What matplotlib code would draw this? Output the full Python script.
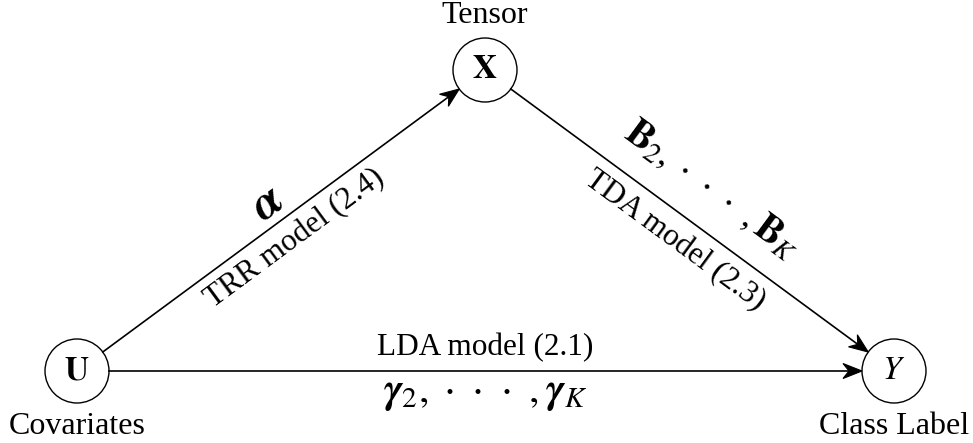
import numpy as np
import matplotlib
matplotlib.use("Agg")
import matplotlib.pyplot as plt
from matplotlib.patches import Circle, Polygon

plt.rcParams["font.family"] = ["Liberation Serif", "DejaVu Serif"]
plt.rcParams["mathtext.fontset"] = "stix"

# ── diagram content ──────────────────────────────────────────────────────────
node_keys     = ["U", "X", "Y"]
node_symbols  = [r"$\mathbf{U}$", r"$\mathbf{X}$", r"$Y$"]
node_captions = ["Covariates", "Tensor", "Class Label"]

edge_src    = ["U", "X", "U"]
edge_dst    = ["X", "Y", "Y"]
DOTS = r"\;{\cdot}\;\;{\cdot}\;\;{\cdot}\;\;"
edge_top    = [r"$\boldsymbol{\alpha}$",
               r"$\mathbf{B}_2," + DOTS + r",\mathbf{B}_K$",
               "LDA model (2.1)"]
edge_bottom = ["TRR model (2.4)",
               "TDA model (2.3)",
               r"$\boldsymbol{\gamma}_2," + DOTS + r",\boldsymbol{\gamma}_K$"]

# ── layout (pixel space, y down) ─────────────────────────────────────────────
W, H = 973, 443
POS = {"U": (77, 371), "X": (485, 70), "Y": (894, 371)}
R = 32
CAPTION_DY = {"U": 55, "X": -55, "Y": 55}
TOP_FS     = [34, 28, 22.5]
BOTTOM_FS  = [22.5, 22.5, 30]
TOP_OFF    = [21, 38, 23]
BOTTOM_OFF = [23, 25, 23]
HEAD_L, HEAD_W, NOTCH = 19, 7.5, 6

fig = plt.figure(figsize=(W / 100, H / 100), dpi=100)
ax = fig.add_axes([0, 0, 1, 1])
ax.set_xlim(0, W)
ax.set_ylim(H, 0)
ax.set_aspect("equal")
ax.axis("off")

for key, sym, cap in zip(node_keys, node_symbols, node_captions):
    x, y = POS[key]
    ax.add_patch(Circle((x, y), R, fill=False, lw=1.0, ec="black"))
    ax.text(x, y, sym, ha="center", va="center", fontsize=24)
    ax.text(x, y + CAPTION_DY[key], cap, ha="center", va="center", fontsize=23)

for i, (s, d) in enumerate(zip(edge_src, edge_dst)):
    (x0, y0), (x1, y1) = POS[s], POS[d]
    v = np.array([x1 - x0, y1 - y0], float)
    u = v / np.hypot(*v)
    p0 = np.array([x0, y0]) + u * R
    tip = np.array([x1, y1]) - u * R
    # normal pointing "up" on screen (y down => negative y)
    n = np.array([u[1], -u[0]])
    if n[1] > 0:
        n = -n
    ax.plot([p0[0], tip[0] - u[0] * (HEAD_L - NOTCH)],
            [p0[1], tip[1] - u[1] * (HEAD_L - NOTCH)], color="black", lw=1.2)
    head = [tip,
            tip - u * HEAD_L + n * HEAD_W,
            tip - u * (HEAD_L - NOTCH),
            tip - u * HEAD_L - n * HEAD_W]
    ax.add_patch(Polygon(head, closed=True, fc="black", ec="black", lw=0.8))

    ang = -np.degrees(np.arctan2(v[1], v[0]))
    mid = (p0 + tip) / 2
    tp = mid + n * TOP_OFF[i]
    bp = mid - n * BOTTOM_OFF[i]
    ax.text(tp[0], tp[1], edge_top[i], rotation=ang, rotation_mode="anchor",
            ha="center", va="center", fontsize=TOP_FS[i])
    ax.text(bp[0], bp[1], edge_bottom[i], rotation=ang, rotation_mode="anchor",
            ha="center", va="center", fontsize=BOTTOM_FS[i])

fig.savefig("out.png", dpi=100)
